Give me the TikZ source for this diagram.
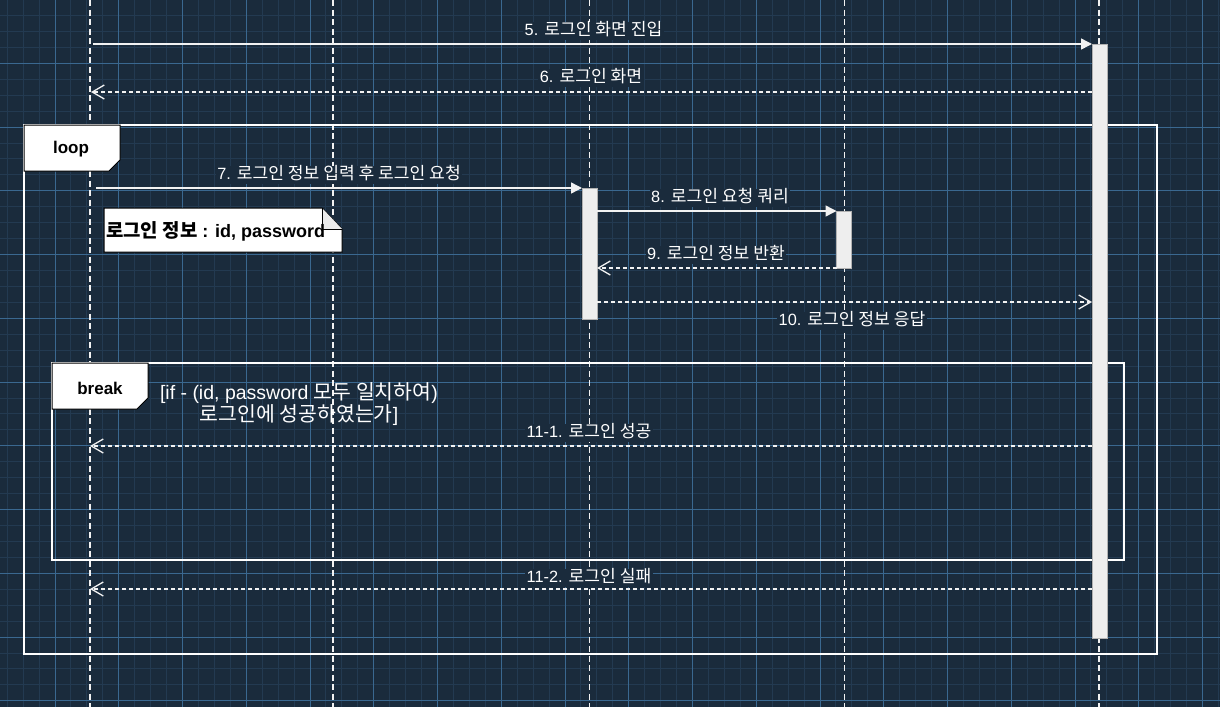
\documentclass[tikz,border=0pt]{standalone}
\usepackage{fontspec}
\setmainfont{Liberation Sans}
\newfontfamily\ko[Scale=1.05]{Noto Sans CJK KR}
\usetikzlibrary{arrows.meta}
\definecolor{bg}{HTML}{1A2B3C}
\definecolor{gridminor}{HTML}{233A51}
\definecolor{gridmajor}{HTML}{3A6890}
\definecolor{actfill}{HTML}{EEEEEE}
\definecolor{linec}{HTML}{F2F2F2}
\begin{document}
\begin{tikzpicture}[x=1pt,y=-1pt,
  lifeline/.style={draw=linec, line width=1.5pt, dash pattern=on 6pt off 3.5pt},
  msg/.style={draw=linec, line width=1.4pt},
  dmsg/.style={msg, dash pattern=on 4pt off 3pt},
  solidhead/.style={-{Triangle[length=11pt,width=11pt,fill=linec]}},
  openhead/.style={-{Straight Barb[length=12pt,width=14pt,line width=1.3pt]}},
  act/.style={draw=black!30, line width=0.8pt, fill=actfill, minimum width=15pt, inner sep=0pt, outer sep=0pt, anchor=north},
  frm/.style={draw=white, line width=2.6pt, inner sep=0pt, outer sep=0pt, anchor=north west},
  lblbox/.style={draw=black, line width=1pt, fill=white},
  frlabel/.style={font=\fontsize{17}{20}\selectfont\bfseries, text=black, inner sep=0pt},
  lbl/.style={font=\fontsize{16.3}{19}\selectfont, text=white, fill=bg, inner sep=1.5pt, text height=12pt, text depth=3pt},
  guardtxt/.style={font=\fontsize{19.5}{22}\selectfont, text=white, align=center, inner sep=0pt},
  notetxt/.style={font=\fontsize{18}{20}\selectfont\bfseries, text=black, inner sep=0pt}
]
\useasboundingbox (0,0) rectangle (1220,707);
\fill[bg] (0,0) rectangle (1220,707);
% grid
\foreach \i in {0,...,78} {
  \draw[gridminor, line width=1pt] ({-8.75+15.9375*\i},0) -- ({-8.75+15.9375*\i},707);
}
\foreach \i in {0,...,45} {
  \draw[gridminor, line width=1pt] (0,{-0.4+15.9375*\i}) -- (1220,{-0.4+15.9375*\i});
}
\foreach \i in {0,...,19} {
  \draw[gridmajor, line width=1pt] ({-8.75+63.75*\i},0) -- ({-8.75+63.75*\i},707);
}
\foreach \i in {0,...,11} {
  \draw[gridmajor, line width=1pt] (0,{-0.4+63.75*\i}) -- (1220,{-0.4+63.75*\i});
}
% lifelines
\foreach \n/\x in {1/90,2/333,3/589.5,4/844.5,5/1099} {
  \coordinate (top\n) at (\x,0);
  \coordinate (bot\n) at (\x,707);
  \draw[lifeline] (top\n) -- (bot\n);
}
% frames
\node[frm, minimum width=1133pt, minimum height=529pt] (loopfr) at (24,125) {};
\node[frm, minimum width=1072pt, minimum height=197pt] (breakfr) at (52,363) {};
% activation bars
\node[act, minimum height=594pt] (A5) at (1099.5,44) {};
\node[act, minimum height=131pt] (A3) at (589.5,188) {};
\node[act, minimum height=57pt] (A4) at (844,211) {};
% frame labels
\draw[lblbox] (24,125) -- (120,125) -- (120,160) -- (109,171) -- (24,171) -- cycle;
\node[frlabel] (looptxt) at (71,149) {loop};
\draw[lblbox] (52,363) -- (148,363) -- (148,398) -- (137,409) -- (52,409) -- cycle;
\node[frlabel] (breaktxt) at (100,388) {break};
\node[guardtxt] (guard) at (299,404) {[if - (id, password {\ko 모두 일치하여})\\{\ko 로그인에 성공하였는가}]};
% note
\draw[lblbox] (104,208) -- (322,208) -- (342,229) -- (342,252) -- (104,252) -- cycle;
\draw[lblbox, fill=black!8] (322,208) -- (322,229) -- (342,229);
\node[notetxt, anchor=west] (notet) at (106,231) {{\ko 로그인 정보} : id, password};
% messages
\coordinate (s5) at (93,44);
\draw[msg, solidhead] (s5) -- (A5.north west);
\coordinate (e6) at (91,92);
\draw[dmsg, openhead] (A5.west |- e6) -- (e6);
\coordinate (s7) at (96,188);
\draw[msg, solidhead] (s7) -- (A3.north west);
\draw[msg, solidhead] (A3.east |- A4.north) -- (A4.north west);
\draw[dmsg, openhead] (A4.south west) -- (A3.east |- A4.south);
\coordinate (y10) at (0,302);
\draw[dmsg, openhead] (A3.east |- y10) -- (A5.west |- y10);
\coordinate (e111) at (90,446);
\draw[dmsg, openhead] (A5.west |- e111) -- (e111);
\coordinate (e112) at (90,589);
\draw[dmsg, openhead] (A5.west |- e112) -- (e112);
% labels
\node[lbl] (t5) at (593.5,31) {5. {\ko 로그인 화면 진입}};
\node[lbl] (t6) at (591,78) {6. {\ko 로그인 화면}};
\node[lbl] (t7) at (339,175) {7. {\ko 로그인 정보 입력 후 로그인 요청}};
\node[lbl] (t8) at (720,198) {8. {\ko 로그인 요청 쿼리}};
\node[lbl] (t9) at (716,255) {9. {\ko 로그인 정보 반환}};
\node[lbl] (t10) at (852,321) {10. {\ko 로그인 정보 응답}};
\node[lbl] (t111) at (589,433) {11-1. {\ko 로그인 성공}};
\node[lbl] (t112) at (589,578) {11-2. {\ko 로그인 실패}};
\end{tikzpicture}
\end{document}
